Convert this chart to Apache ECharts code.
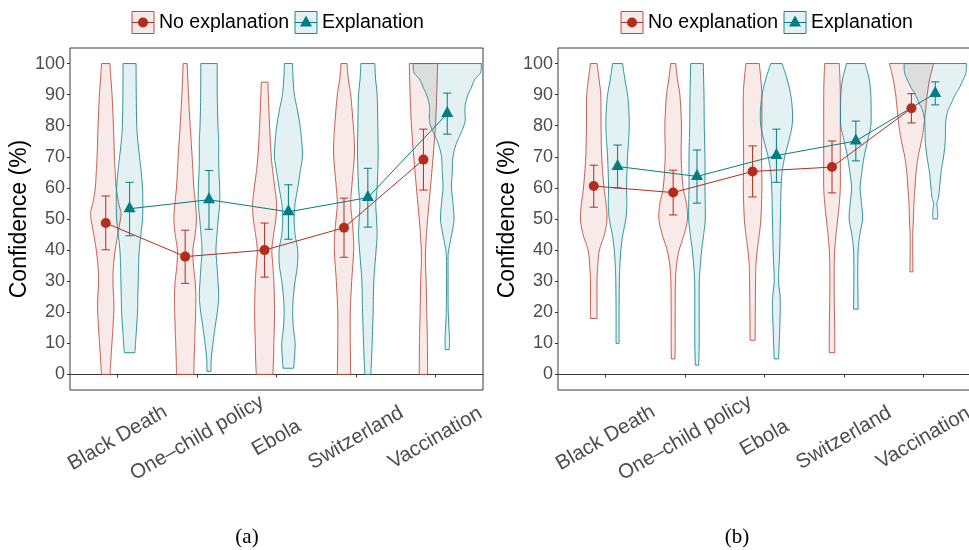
<!DOCTYPE html>
<html>
<head>
<meta charset="utf-8">
<script src="https://cdn.jsdelivr.net/npm/echarts@6/dist/echarts.min.js"></script>
<style>
  html, body { margin: 0; padding: 0; background: #ffffff; }
  #chart { width: 969px; height: 550px; }
</style>
</head>
<body>
<div id="chart"></div>
<script>
// ---------- data ----------
const categories = ['Black Death', 'One\u2013child policy', 'Ebola', 'Switzerland', 'Vaccination'];
const groups = ['No explanation', 'Explanation'];
const yTicks = [0, 10, 20, 30, 40, 50, 60, 70, 80, 90, 100];
const panelLabels = ['(a)', '(b)'];

// Panel (a): mean confidence and 95% interval per topic
const meanA_no   = [48.7, 37.9, 40.0, 47.2, 69.1];
const lowA_no    = [40.1, 29.3, 31.3, 37.7, 59.3];
const highA_no   = [57.4, 46.4, 48.7, 56.7, 78.9];
const meanA_exp  = [53.3, 56.2, 52.3, 56.9, 83.9];
const lowA_exp   = [44.6, 46.7, 43.5, 47.4, 77.3];
const highA_exp  = [61.8, 65.6, 61.0, 66.3, 90.5];

// Panel (b)
const meanB_no   = [60.6, 58.5, 65.3, 66.7, 85.6];
const lowB_no    = [53.8, 51.3, 57.1, 58.4, 80.9];
const highB_no   = [67.3, 65.7, 73.5, 75.1, 90.3];
const meanB_exp  = [66.9, 63.7, 70.4, 75.1, 90.4];
const lowB_exp   = [60.0, 55.1, 61.8, 68.7, 86.7];
const highB_exp  = [73.8, 72.2, 78.9, 81.5, 94.1];

// Violin density profiles: [confidence, density] from lowest to highest response
const violinA_no = [
  [[0,4.3],[5,5.2],[10,6.2],[15,7.2],[22,8.2],[30,7.2],[35,7.8],[40,9.5],[45,12],[50,14.8],[52,15.3],[55,13],[60,10.5],[65,9.5],[70,8.7],[80,7.7],[90,6.3],[95,5.2],[100,4.2]],
  [[0,8.7],[5,9],[10,9.5],[15,10],[20,10.5],[25,10.7],[30,10],[35,8.3],[40,7.8],[45,10],[50,11.3],[55,10.3],[60,8.7],[70,7],[80,5],[90,3.3],[100,2]],
  [[0,8.3],[5,9],[10,9.3],[20,10],[30,9.3],[35,8.3],[40,7.3],[45,9],[50,11.3],[55,12],[60,10.3],[65,8.3],[70,6.7],[80,5],[90,3.7],[94,3.3]],
  [[0,6.7],[10,6.3],[20,6.3],[30,7.7],[40,9.7],[45,9.3],[50,8],[55,6.7],[60,7.7],[70,10.3],[75,10.3],[80,9.3],[90,6.7],[95,4.3],[100,3]],
  [[0,4.2],[10,4],[15,3.7],[20,3.3],[30,2.7],[38,2],[45,3],[50,4.2],[60,7],[70,9.7],[80,12],[90,13.3],[100,14.2]]
];
const violinA_exp = [
  [[7,5.3],[10,6],[15,7],[20,8],[25,8.3],[30,8.7],[35,9],[40,9.7],[45,11.3],[50,13],[55,13.3],[60,13],[65,11.7],[70,10],[75,8.3],[80,7.2],[90,6.7],[100,6.5]],
  [[1,2],[5,2.3],[10,4],[15,6],[20,8.3],[25,9.7],[30,9],[35,8],[40,7],[45,8],[50,9.3],[55,10.7],[60,10.7],[65,10],[70,9.7],[75,9.7],[80,9],[90,8.3],[100,8.2]],
  [[2,5.3],[5,6],[10,6.7],[15,5],[20,4.3],[25,5],[30,6.7],[35,9],[40,9.3],[45,6.7],[50,5.7],[55,6.7],[60,9.3],[65,11.7],[70,14],[75,13.3],[80,11.7],[85,9],[90,6],[95,4.7],[100,4]],
  [[0,3],[5,3.7],[10,4.3],[20,5.3],[30,6],[40,8.3],[45,9.3],[50,8.7],[55,8],[60,9.3],[70,10.3],[80,10],[90,9.3],[95,7.8],[100,7]],
  [[8,2],[11,2.3],[15,1.7],[20,1],[25,0.8],[30,0.8],[36,0.8],[39,1],[43,3.2],[47,5.6],[50,6.8],[55,5.8],[60,4.3],[65,5],[70,5.8],[74,8.8],[77,12.8],[80,16.7],[82,18],[85,17.7],[87,18.2],[90,20.8],[92,23.7],[95,27.8],[97,33.3],[100,34.2]]
];
const violinB_no = [
  [[18,3.3],[20,3.3],[30,3.3],[35,4],[40,5.7],[45,10.7],[50,13.3],[55,12.3],[60,10.3],[70,8],[80,7.3],[90,7],[95,5.3],[100,3.3]],
  [[5,1.8],[10,2],[20,2],[30,2.3],[35,3.3],[40,6],[45,11],[50,14.3],[55,13.3],[60,10],[70,8],[80,8.3],[90,6.7],[95,4.3],[100,2.5]],
  [[11,2.5],[20,2.7],[30,3],[35,3.3],[40,4.7],[45,6.7],[50,8.3],[60,9.3],[70,9],[80,9.3],[90,9.3],[95,8.3],[100,6.7]],
  [[7,2.8],[15,2.7],[25,2.2],[35,2.2],[40,2.7],[45,4],[50,5.7],[55,7.3],[60,8.3],[70,8.3],[80,8.3],[90,8.3],[95,8],[100,7.3]],
  [[33,1.5],[40,1.3],[45,1.3],[50,2],[55,2.5],[60,3.5],[65,4.7],[70,6.7],[75,10],[80,12.5],[85,14.2],[90,15.8],[95,18.3],[100,22.2]]
];
const violinB_exp = [
  [[10,1.5],[20,1.5],[30,1.8],[35,2.3],[40,3.3],[45,5.3],[50,8.3],[55,9.3],[60,9],[70,10],[75,11],[80,11.7],[85,11.3],[90,10],[95,7.3],[100,5]],
  [[3,1.7],[10,2.2],[20,2.2],[30,2.3],[35,3.3],[40,4.7],[45,6.7],[50,8.3],[60,8],[70,8],[80,7.3],[90,7],[100,6.3]],
  [[5,2.2],[10,2.8],[20,3.8],[25,3.7],[30,2.2],[40,3.3],[50,4],[60,4.7],[65,5.7],[70,8.3],[75,12.3],[80,15.7],[85,16],[90,14.3],[95,10.7],[100,5.7]],
  [[21,2.3],[30,2],[40,2.3],[45,4],[50,6.7],[55,5.7],[60,4.3],[65,6],[70,8.3],[75,11.7],[80,15],[85,15.3],[90,15],[95,13.3],[100,9.3]],
  [[50,2.2],[51,2.5],[53,2.3],[55,1.7],[57,3.3],[60,4.3],[65,5.8],[70,8.3],[75,10],[80,10.3],[82,10.8],[85,12.8],[87,15.8],[90,20],[92,23.8],[95,28.3],[97,30.7],[100,31.3]]
];

// ---------- styling ----------
const FONT = 'Liberation Sans, Arial, Helvetica, sans-serif';
const pointColor  = ['#B22E1C', '#037D83'];
const strokeColor = ['#C4493A', '#168990'];
const fillColor   = ['rgba(181,50,31,0.10)', 'rgba(0,128,138,0.11)'];
const frameColor  = '#3a3a3a';
const DODGE = 0.15;            // horizontal offset of each group from its topic
const CAP = 0.052;             // half width of error-bar caps (x units)
const VIOLIN_SCALE = 1 / 79.6; // density unit -> x units

const panels = [
  { left: 70,  legendX: 132, captionX: 247,
    mean: [meanA_no, meanA_exp], low: [lowA_no, lowA_exp], high: [highA_no, highA_exp],
    violins: [violinA_no, violinA_exp] },
  { left: 558, legendX: 621, captionX: 737,
    mean: [meanB_no, meanB_exp], low: [lowB_no, lowB_exp], high: [highB_no, highB_exp],
    violins: [violinB_no, violinB_exp] }
];

function dodged(i, g) { return i + 1 + (g === 0 ? -DODGE : DODGE); }

// Cubic Hermite resampling of a density profile so the outline is smooth
function smoothProfile(prof) {
  const out = [];
  const n = prof.length;
  const slope = (a, b) => (b[1] - a[1]) / (b[0] - a[0]);
  for (let i = 0; i < n - 1; i++) {
    const p0 = prof[Math.max(i - 1, 0)], p1 = prof[i], p2 = prof[i + 1], p3 = prof[Math.min(i + 2, n - 1)];
    const h = p2[0] - p1[0];
    const m1 = (i === 0) ? slope(p1, p2) : slope(p0, p2);
    const m2 = (i + 2 > n - 1) ? slope(p1, p2) : slope(p1, p3);
    const steps = 8;
    for (let s = 0; s < steps; s++) {
      const t = s / steps, t2 = t * t, t3 = t2 * t;
      const h00 = 2 * t3 - 3 * t2 + 1, h10 = t3 - 2 * t2 + t, h01 = -2 * t3 + 3 * t2, h11 = t3 - t2;
      const d = h00 * p1[1] + h10 * h * m1 + h01 * p2[1] + h11 * h * m2;
      out.push([p1[0] + t * h, Math.max(d, 0.4)]);
    }
  }
  out.push(prof[n - 1]);
  return out;
}

function violinSeries(pi) {
  const p = panels[pi];
  const items = [];
  for (let i = 0; i < categories.length; i++) {
    for (let g = 0; g < 2; g++) {
      items.push({ x: dodged(i, g), g: g, profile: smoothProfile(p.violins[g][i]) });
    }
  }
  return {
    type: 'custom', xAxisIndex: pi, yAxisIndex: pi, z: 1, silent: true,
    data: items.map(v => [v.x, 50]),
    renderItem: function (params, api) {
      const v = items[params.dataIndex];
      const unit = api.size([1, 0])[0];
      const right = [], left = [];
      v.profile.forEach(function (pt) {
        const c = api.coord([v.x, pt[0]]);
        const w = pt[1] * VIOLIN_SCALE * unit;
        right.push([c[0] + w, c[1]]);
        left.push([c[0] - w, c[1]]);
      });
      return {
        type: 'polygon',
        shape: { points: right.concat(left.reverse()) },
        style: { fill: fillColor[v.g], stroke: strokeColor[v.g], lineWidth: 0.9 }
      };
    }
  };
}

function errorSeries(pi, g) {
  const p = panels[pi];
  return {
    type: 'custom', xAxisIndex: pi, yAxisIndex: pi, z: 2, silent: true,
    encode: { x: 0, y: [1, 2] },
    data: categories.map((c, i) => [dodged(i, g), p.low[g][i], p.high[g][i]]),
    renderItem: function (params, api) {
      const x = api.value(0);
      const top = api.coord([x, api.value(2)]);
      const bot = api.coord([x, api.value(1)]);
      const cw = CAP * api.size([1, 0])[0];
      const st = { stroke: pointColor[g], lineWidth: 1 };
      return { type: 'group', children: [
        { type: 'line', shape: { x1: top[0], y1: top[1], x2: bot[0], y2: bot[1] }, style: st },
        { type: 'line', shape: { x1: top[0] - cw, y1: top[1], x2: top[0] + cw, y2: top[1] }, style: st },
        { type: 'line', shape: { x1: bot[0] - cw, y1: bot[1], x2: bot[0] + cw, y2: bot[1] }, style: st }
      ]};
    }
  };
}

function meanSeries(pi, g) {
  const p = panels[pi];
  return {
    type: 'line', name: groups[g], xAxisIndex: pi, yAxisIndex: pi, z: 3,
    data: p.mean[g].map((m, i) => [dodged(i, g), m]),
    symbol: g === 0 ? 'circle' : 'triangle',
    symbolSize: g === 0 ? 10 : [12, 11],
    symbolOffset: g === 0 ? [0, 0] : [0, -2],
    itemStyle: { color: pointColor[g] },
    lineStyle: { color: pointColor[g], width: 1 },
    emphasis: { disabled: true }
  };
}

const grids = panels.map(p => ({
  left: p.left, top: 48, width: 413, height: 342,
  outerBoundsMode: 'none', containLabel: false,
  show: true, borderColor: frameColor, borderWidth: 1, backgroundColor: 'transparent'
}));

const xAxes = panels.map((p, pi) => ({
  type: 'value', gridIndex: pi, min: 0.4, max: 5.6,
  axisLine: { show: true, lineStyle: { color: frameColor, width: 1 } },
  axisTick: { show: true, customValues: [1, 2, 3, 4, 5], length: 3, lineStyle: { color: '#333' } },
  axisLabel: {
    customValues: [1, 2, 3, 4, 5],
    formatter: v => categories[Math.round(v) - 1],
    rotate: 30, align: 'center', verticalAlign: 'middle', margin: 48,
    fontSize: 20.5, color: '#4D4D4D', fontFamily: FONT
  },
  splitLine: { show: false }
}));

const yAxes = panels.map((p, pi) => ({
  type: 'value', gridIndex: pi, min: -5, max: 105,
  name: 'Confidence (%)', nameLocation: 'middle', nameGap: 36, nameRotate: 90,
  nameTextStyle: { fontSize: 23, color: '#000', fontFamily: FONT },
  axisLine: { show: false },
  axisTick: { show: true, customValues: yTicks, length: 3, lineStyle: { color: '#333' } },
  axisLabel: { customValues: yTicks, fontSize: 18, color: '#4D4D4D', fontFamily: FONT, margin: 5 },
  splitLine: { show: false }
}));

// Legend keys (boxed point + line) and panel captions
const graphics = [];
panels.forEach(function (p, pi) {
  const keyX = [p.legendX, p.legendX + 163];
  const textX = [p.legendX + 27, p.legendX + 190];
  const cy = 22.5;
  for (let g = 0; g < 2; g++) {
    const kx = keyX[g];
    graphics.push({ type: 'rect', shape: { x: kx, y: cy - 11, width: 22, height: 22 },
      style: { fill: fillColor[g], stroke: strokeColor[g], lineWidth: 1 }, z: 10 });
    graphics.push({ type: 'line', shape: { x1: kx, y1: cy, x2: kx + 22, y2: cy },
      style: { stroke: pointColor[g], lineWidth: 1 }, z: 11 });
    if (g === 0) {
      graphics.push({ type: 'circle', shape: { cx: kx + 11, cy: cy, r: 5 },
        style: { fill: pointColor[g] }, z: 12 });
    } else {
      graphics.push({ type: 'polygon', shape: { points: [[kx + 11, cy - 7], [kx + 17, cy + 4], [kx + 5, cy + 4]] },
        style: { fill: pointColor[g] }, z: 12 });
    }
    graphics.push({ type: 'text', x: textX[g], y: cy, z: 12,
      style: { text: groups[g], fontSize: 19.5, fontFamily: FONT, fill: '#000', verticalAlign: 'middle', align: 'left' } });
  }
  graphics.push({ type: 'text', x: p.captionX, y: 537, z: 12,
    style: { text: panelLabels[pi], fontSize: 21, fontFamily: 'Liberation Serif, Times New Roman, serif',
      fill: '#000', align: 'center', verticalAlign: 'middle' } });
});

const series = [];
[0, 1].forEach(function (pi) {
  series.push(violinSeries(pi));
  series.push(errorSeries(pi, 0), errorSeries(pi, 1));
  series.push(meanSeries(pi, 0), meanSeries(pi, 1));
});

const chart = echarts.init(document.getElementById('chart'), null, { renderer: 'canvas' });
chart.setOption({
  animation: false,
  backgroundColor: '#ffffff',
  grid: grids,
  xAxis: xAxes,
  yAxis: yAxes,
  graphic: graphics,
  series: series
});
</script>
</body>
</html>
